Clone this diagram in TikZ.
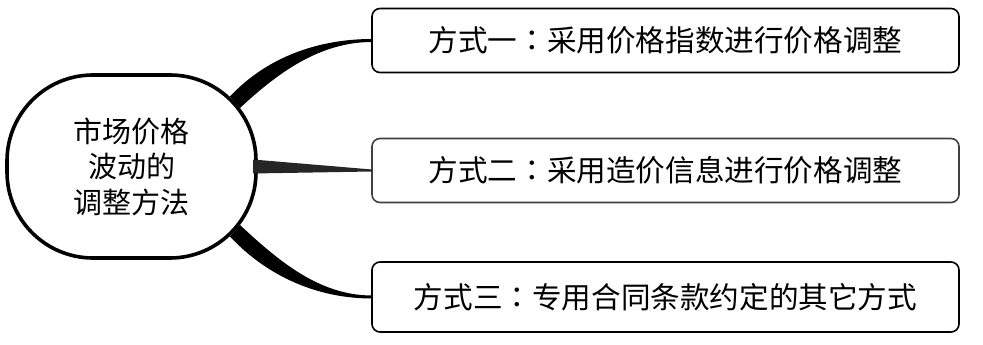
\documentclass[tikz,border=0pt]{standalone}
\usepackage{fontspec}
\setmainfont{Noto Sans CJK SC}
\newfontfamily\tcfont{Noto Sans CJK TC}
\newcommand{\midcolon}{{\tcfont ：}}
\usetikzlibrary{calc}

\begin{document}
\begin{tikzpicture}[x=1pt,y=-1pt,
  hubnode/.style={draw, line width=3.6pt, rounded corners=86pt, minimum width=249pt, minimum height=183pt,
    align=center, inner sep=0pt, outer sep=0pt, font=\fontsize{29}{35.5}\selectfont},
  waybox/.style={draw, line width=1.6pt, rounded corners=8pt, minimum width=587pt, inner sep=0pt,
    outer sep=0pt, font=\fontsize{29.6}{34}\selectfont},
  taper/.style={fill=black, looseness=0.9}]
\useasboundingbox (0,0) rectangle (983,345);

\node[hubnode] (hub) at (131.5,166.5) {市场价格\\波动的\\调整方法};
\node[waybox, minimum height=64pt] (b1) at (665.5,40.5) {方式一\midcolon 采用价格指数进行价格调整};
\node[waybox, minimum height=64pt, draw=black!75] (b2) at (665.5,170.5) {方式二\midcolon 采用造价信息进行价格调整};
\node[waybox, minimum height=70pt] (b3) at (665.5,297) {方式三\midcolon 专用合同条款约定的其它方式};

\fill[taper] ($(hub.east)+(-26,-70)$) to[out=47,in=180] ($(b1.west)+(0,-1.5)$)
  -- ($(b1.west)+(0,1.5)$) to[out=180,in=43] ($(hub.east)+(-16,-58.5)$) -- cycle;
\fill[taper, fill=black!85] ($(hub.east)+(-3,-7)$) -- ($(b2.west)+(0,-1)$)
  -- ($(b2.west)+(0,1)$) -- ($(hub.east)+(-3,7)$) -- cycle;
\fill[taper] ($(hub.east)+(-26,70)$) to[out=-47,in=180] ($(b3.west)+(0,1.5)$)
  -- ($(b3.west)+(0,-1.5)$) to[out=180,in=-43] ($(hub.east)+(-16,58.5)$) -- cycle;
\end{tikzpicture}
\end{document}
